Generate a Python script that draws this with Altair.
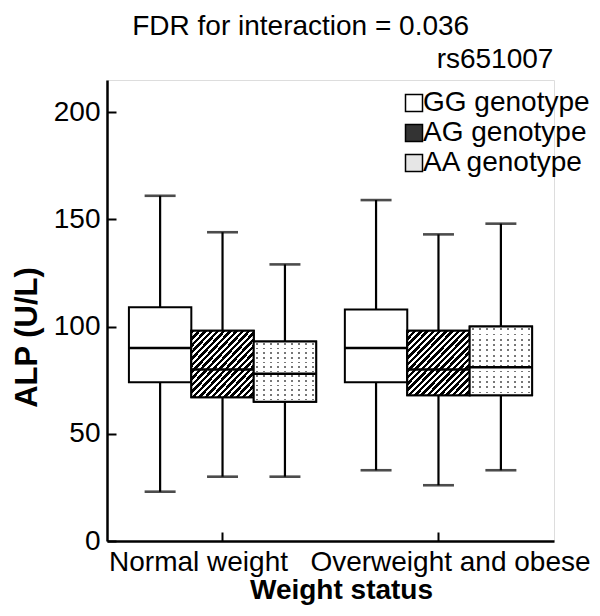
import altair as alt
import pandas as pd

status = ["Normal weight"] * 3 + ["Overweight and obese"] * 3
genotype = ["GG", "AG", "AA"] * 2
lower = [23, 30, 30, 33, 26, 33]
q1 = [74, 67, 65, 74, 68, 68]
median = [90, 80, 78, 90, 80, 81]
q3 = [109, 98, 93, 108, 98, 100]
upper = [161, 144, 129, 159, 143, 148]

geno_order = ["GG", "AG", "AA"]
geno_labels = {"GG": "GG genotype", "AG": "AG genotype", "AA": "AA genotype"}
status_order = ["Normal weight", "Overweight and obese"]

df = pd.DataFrame({
    "status": status,
    "genotype": [geno_labels[g] for g in genotype],
    "lower": lower, "q1": q1, "median": median, "q3": q3, "upper": upper,
})
legend_domain = [geno_labels[g] for g in geno_order]

FONT = "Liberation Sans"

# hatch gradient (diagonal stripes)
def hatch_stops(n=20, frac=0.55, c1="black", c2="white"):
    stops = []
    for k in range(n):
        a = k / n
        m = (k + frac) / n
        b = (k + 1) / n
        stops += [{"offset": a, "color": c1}, {"offset": m, "color": c1},
                  {"offset": m, "color": c2}, {"offset": b, "color": c2}]
    return stops

def band_stops(n, frac, c_in, c_out):
    stops = []
    for k in range(n):
        a = k / n
        s = (k + 0.5 - frac / 2) / n
        e = (k + 0.5 + frac / 2) / n
        b = (k + 1) / n
        stops += [{"offset": a, "color": c_out}, {"offset": s, "color": c_out},
                  {"offset": s, "color": c_in}, {"offset": e, "color": c_in},
                  {"offset": e, "color": c_out}, {"offset": b, "color": c_out}]
    return stops

hatch = {"gradient": "linear", "x1": 0, "y1": 0, "x2": 1, "y2": 1, "stops": hatch_stops()}
dot_cols = {"gradient": "linear", "x1": 0, "y1": 0, "x2": 1, "y2": 0,
            "stops": band_stops(9, 0.28, "#777777", "white")}
dot_rows = {"gradient": "linear", "x1": 0, "y1": 0, "x2": 0, "y2": 1,
            "stops": band_stops(13, 0.35, "rgba(255,255,255,0)", "rgba(255,255,255,1)")}

x_enc = alt.X("status:N", sort=status_order,
              scale=alt.Scale(domain=status_order, paddingInner=0, paddingOuter=0.035),
              title="Weight status",
              axis=alt.Axis(labelAngle=0, labelFontSize=28, labelFont=FONT, labelColor="black",
                            labelPadding=16, tickSize={"expr": "-9"}, tickWidth=2, tickColor="black",
                            domainColor="black", domainWidth=2.5, labelLimit=400,
                            labelOffset={"condition": {"test": "datum.value == 'Normal weight'", "value": -24},
                                         "value": 12},
                            labelOverlap=False,
                            titleFontSize=28, titleFont=FONT, titleFontWeight="bold", titleColor="black",
                            titlePadding=0, titleX=234))
xo_enc = alt.XOffset("genotype:N", sort=legend_domain,
                     scale=alt.Scale(domain=legend_domain, paddingInner=0, paddingOuter=0.23))
y_scale = alt.Scale(domain=[0, 215], nice=False, zero=True)
y_axis = alt.Axis(values=[0, 50, 100, 150, 200], labelFontSize=28, labelFont=FONT, labelColor="black",
                  labelPadding=16, tickSize={"expr": "-9"}, tickWidth=2, tickColor="black",
                  domainColor="black", domainWidth=2.5, grid=False,
                  titleFontSize=31, titleFont=FONT, titleFontWeight="bold", titleColor="black",
                  titlePadding=10, titleY=257)

base = alt.Chart(df)

whisker = base.mark_rule(color="black", strokeWidth=2.2).encode(
    x=x_enc, xOffset=xo_enc,
    y=alt.Y("lower:Q", scale=y_scale, axis=y_axis, title="ALP (U/L)"),
    y2="upper:Q")

cap_lo = base.mark_tick(color="black", thickness=2.6, size=31, orient="horizontal").encode(
    x=x_enc, xOffset=xo_enc, y=alt.Y("lower:Q", scale=y_scale))
cap_hi = base.mark_tick(color="black", thickness=2.6, size=31, orient="horizontal").encode(
    x=x_enc, xOffset=xo_enc, y=alt.Y("upper:Q", scale=y_scale))

box = base.mark_bar(stroke="black", strokeWidth=2, opacity=1).encode(
    x=x_enc, xOffset=xo_enc,
    y=alt.Y("q1:Q", scale=y_scale), y2="q3:Q",
    fill=alt.Fill("genotype:N", sort=legend_domain,
                  scale=alt.Scale(domain=legend_domain, range=["white", "#333333", "#e6e6e6"]),
                  legend=alt.Legend(title="rs651007", orient="none", legendX=293, legendY=-34,
                                    titleFontSize=28, titleFont=FONT, titleFontWeight="normal",
                                    titleColor="black", titleAnchor="middle", titlePadding=15,
                                    labelFontSize=28, labelFont=FONT, labelColor="black",
                                    labelOffset={"expr": "-5"}, symbolType="square", symbolSize=289,
                                    symbolStrokeColor="black", symbolStrokeWidth=1.5,
                                    symbolOpacity=1, rowPadding=2, labelLimit=400)))

hatch_box = base.transform_filter("datum.genotype == 'AG genotype'").mark_bar(
    fill=hatch, stroke="black", strokeWidth=2).encode(
    x=x_enc, xOffset=xo_enc, y=alt.Y("q1:Q", scale=y_scale), y2="q3:Q")

dot_box1 = base.transform_filter("datum.genotype == 'AA genotype'").mark_bar(
    fill=dot_cols, strokeWidth=0).encode(
    x=x_enc, xOffset=xo_enc, y=alt.Y("q1:Q", scale=y_scale), y2="q3:Q")
dot_box2 = base.transform_filter("datum.genotype == 'AA genotype'").mark_bar(
    fill=dot_rows, stroke="black", strokeWidth=2).encode(
    x=x_enc, xOffset=xo_enc, y=alt.Y("q1:Q", scale=y_scale), y2="q3:Q")

med = base.mark_tick(color="black", thickness=2.6, size=62, orient="horizontal", opacity=1).encode(
    x=x_enc, xOffset=xo_enc, y=alt.Y("median:Q", scale=y_scale))

chart = alt.layer(whisker, cap_lo, cap_hi, box, hatch_box, dot_box1, dot_box2, med).properties(
    width=447, height=461,
    title=alt.TitleParams("FDR for interaction = 0.036", fontSize=28, font=FONT, fontWeight="normal",
                          color="black", anchor="middle", frame="bounds", offset=5),
    autosize=alt.AutoSizeParams(type="none"),
    padding={"left": 99, "top": 72, "right": 38, "bottom": 67},
).configure_view(stroke=None).configure(background="white")

chart.save("out.html", embed_options={"renderer": "svg", "actions": False})
